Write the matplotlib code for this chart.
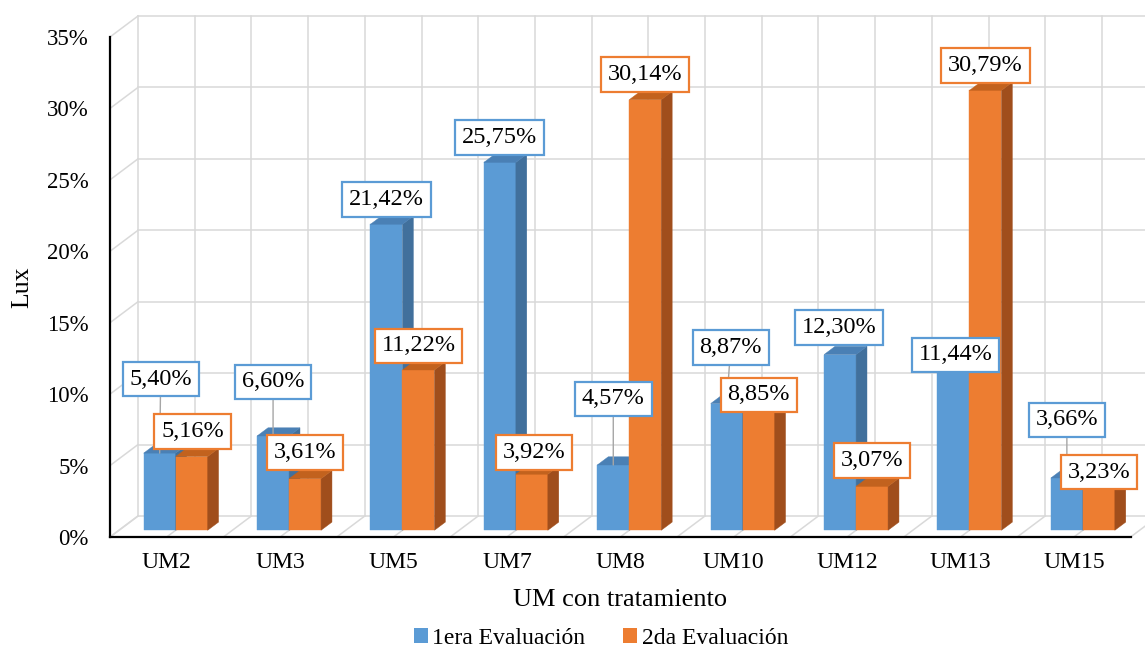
import numpy as np
import matplotlib.pyplot as plt
from matplotlib.patches import Polygon, Patch

# datos
categorias = ["UM2", "UM3", "UM5", "UM7", "UM8", "UM10", "UM12", "UM13", "UM15"]
eval_1 = [5.40, 6.60, 21.42, 25.75, 4.57, 8.87, 12.30, 11.44, 3.66]
eval_2 = [5.16, 3.61, 11.22, 3.92, 30.14, 8.85, 3.07, 30.79, 3.23]
series = ["1era Evaluación", "2da Evaluación"]
y_ticks = [0, 5, 10, 15, 20, 25, 30, 35]

# posicion de las etiquetas (pixeles desde el tope de la barra)
off_1 = [(1, 74), (0, 54), (0, 25), (0, 25), (0, 66), (4, 56), (-1, 27), (2, 12), (0, 58)]
off_2 = [(1, 25), (0, 26), (0, 24), (2, 22), (0, 25), (0, 9), (0, 26), (0, 25), (0, 12)]

# colores: frente, lado, tope
azul = ("#5b9bd5", "#41709c", "#4a80b5")
naranja = ("#ed7d31", "#a04e1c", "#c2621e")
gris = "#d9d9d9"

# geometria pseudo 3D (unidades de datos)
DX, DY = 0.247, 1.47      # profundidad de las paredes
F0 = 0.32                 # posicion del frente de las barras
FB = 0.39                 # profundidad de las barras
W = 0.282                 # ancho de cada barra

plt.rcParams['font.family'] = ['Liberation Serif', 'DejaVu Serif']

fig = plt.figure(figsize=(11.45, 6.48), dpi=100)
px_x, px_y = 113.4, 14.286
x_min, x_max, y_max = -0.5, 9.0, 36.6
ax = fig.add_axes([110 / 1145, 111 / 648,
                   (x_max - x_min) * px_x / 1145, y_max * px_y / 648])
ax.set_xlim(x_min, x_max)
ax.set_ylim(0, y_max)
ax.patch.set_visible(False)

n = len(categorias)
x_left, x_right = -0.5, n - 0.5

# pared trasera, lateral y piso
for v in y_ticks:
    ax.plot([x_left + DX, x_right + DX], [v + DY, v + DY], color=gris, lw=1.1, zorder=1)
    ax.plot([x_left, x_left + DX], [v, v + DY], color=gris, lw=1.1, zorder=1)
for xv in np.arange(x_left, x_right + 0.01, 0.5):
    ax.plot([xv + DX, xv + DX], [DY, y_ticks[-1] + DY], color=gris, lw=1.1, zorder=1)
    ax.plot([xv, xv + DX], [0, DY], color=gris, lw=1.1, zorder=1)


def barra(x0, h, colores):
    x0 = x0 + F0 * DX
    y0 = F0 * DY
    bx, by = FB * DX, FB * DY
    frente = [(x0, y0), (x0 + W, y0), (x0 + W, y0 + h), (x0, y0 + h)]
    lado = [(x0 + W, y0), (x0 + W + bx, y0 + by), (x0 + W + bx, y0 + h + by), (x0 + W, y0 + h)]
    tope = [(x0, y0 + h), (x0 + W, y0 + h), (x0 + W + bx, y0 + h + by), (x0 + bx, y0 + h + by)]
    for pts, c in zip((frente, lado, tope), colores):
        ax.add_patch(Polygon(pts, closed=True, facecolor=c, edgecolor=c, lw=0.3, zorder=2))
    return x0 + W / 2, y0 + h


def etiqueta(xy, valor, off, color):
    flecha = None
    if off[1] > 40:
        flecha = dict(arrowstyle="-", color="#a6a6a6", lw=1.0, shrinkA=0, shrinkB=0)
    ax.annotate(f"{valor:.2f}%".replace(".", ","), xy=xy, xytext=off,
                textcoords="offset pixels", ha="center", va="center",
                fontsize=17.5, zorder=6, annotation_clip=False,
                bbox=dict(boxstyle="square,pad=0.28", fc="white", ec=color, lw=1.6),
                arrowprops=flecha)


for i in range(n):
    top1 = barra(i - W, eval_1[i], azul)
    top2 = barra(i, eval_2[i], naranja)
    etiqueta(top1, eval_1[i], off_1[i], azul[0])
    etiqueta(top2, eval_2[i], off_2[i], naranja[0])

# ejes
for s in ("top", "right"):
    ax.spines[s].set_visible(False)
ax.spines["left"].set_bounds(0, y_ticks[-1])
ax.spines["bottom"].set_bounds(x_left, x_right)
ax.spines["left"].set_linewidth(1.6)
ax.spines["bottom"].set_linewidth(1.6)
ax.spines["left"].set_zorder(4)
ax.spines["bottom"].set_zorder(4)

ax.set_yticks(y_ticks)
ax.set_yticklabels([f"{v}%" for v in y_ticks], fontsize=16.5)
ax.set_xticks(range(n))
ax.set_xticklabels(categorias, fontsize=17)
ax.tick_params(axis="y", length=0, pad=15.5)
ax.tick_params(axis="x", length=0, pad=10.5)

fig.text(620 / 1145, 1 - 600 / 648, "UM con tratamiento", fontsize=19,
         ha="center", va="center")
fig.text(22 / 1145, 1 - 287 / 648, "Lux", fontsize=18.5, rotation=90,
         ha="center", va="center")

handles = [Patch(facecolor=azul[0], label=series[0]),
           Patch(facecolor=naranja[0], label=series[1])]
fig.legend(handles=handles, loc="center", bbox_to_anchor=(601 / 1145, 10 / 648),
           ncol=2, frameon=False, fontsize=17, handlelength=0.6, handleheight=0.6,
           handletextpad=0.2, columnspacing=1.6)

fig.savefig("out.png", dpi=100)
